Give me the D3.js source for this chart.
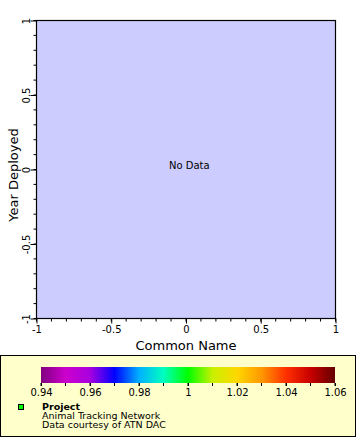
<!DOCTYPE html>
<html><head><meta charset="utf-8">
<script src="https://cdn.jsdelivr.net/npm/d3@7/dist/d3.min.js"></script>
<style>body{margin:0;background:#fff}svg{display:block}text{font-family:"DejaVu Sans",sans-serif}</style>
</head><body><svg id="c" width="360" height="440"></svg>
<script>
// Data (chart shows no data)
const commonNames = [];
const yearDeployed = [];
const xDomain = [-1, 1];
const yDomain = [-1, 1];
const xTickLabels = [-1, -0.5, 0, 0.5, 1];
const yTickLabels = [-1, -0.5, 0, 0.5, 1];
const colorDomain = [0.94, 1.06];
const colorStops = [0.94, 0.95, 0.96, 0.97, 0.98, 0.99, 1.00, 1.01, 1.02, 1.03, 1.04, 1.05, 1.06];
const colorValues = ["#800080", "#cc00cc", "#a800e0", "#0000ff", "#00b0ff", "#00ffc0", "#00ff00", "#c8f000", "#ffd800", "#ff9800", "#ff3000", "#c80000", "#640000"];
const colorTickLabels = [0.94, 0.96, 0.98, 1, 1.02, 1.04, 1.06];
const legendTitle = "Project";
const legendLines = ["Animal Tracking Network", "Data courtesy of ATN DAC"];

const svg = d3.select("#c");
const m = {l: 36.5, r: 335.5, t: 20.5, b: 318.5};
const x = d3.scaleLinear().domain(xDomain).range([m.l, m.r]);
const y = d3.scaleLinear().domain(yDomain).range([m.b, m.t]);

svg.append("rect").attr("x", m.l).attr("y", m.t).attr("width", m.r - m.l).attr("height", m.b - m.t)
  .attr("fill", "#ccccff").attr("stroke", "#000").attr("stroke-width", 1.2);

const fmt = d => d === 0 ? "0" : String(d);
// minor ticks
const minor = d3.range(-10, 11).map(i => i / 10);
const gx = svg.append("g").attr("transform", `translate(0,${m.b})`);
gx.selectAll("line.mn").data(minor).join("line").attr("x1", d => x(d)).attr("x2", d => x(d)).attr("y1", 0).attr("y2", 3).attr("stroke", "#000");
gx.call(d3.axisBottom(x).tickValues(xTickLabels).tickFormat(fmt).tickSize(5).tickPadding(2));
gx.select(".domain").remove();
gx.selectAll("text").attr("font-size", 10).attr("font-family", "DejaVu Sans").attr("fill", "#000");

const gy = svg.append("g").attr("transform", `translate(${m.l},0)`);
gy.selectAll("line.mn").data(minor).join("line").attr("y1", d => y(d)).attr("y2", d => y(d)).attr("x1", 0).attr("x2", -3).attr("stroke", "#000");
gy.call(d3.axisLeft(y).tickValues(yTickLabels).tickFormat(fmt).tickSize(6));
gy.select(".domain").remove();
gy.selectAll(".tick text").attr("font-size", 10).attr("font-family", "DejaVu Sans").attr("fill", "#000")
  .attr("x", null).attr("dy", null).attr("text-anchor", "middle").attr("transform", "translate(-7,0) rotate(-90)");

// data points (none)
svg.append("g").selectAll("circle").data(commonNames.map((c, i) => [c, yearDeployed[i]])).join("circle")
  .attr("cx", d => x(d[0])).attr("cy", d => y(d[1])).attr("r", 2);

svg.append("text").attr("x", 169).attr("y", 169).attr("font-size", 10).text("No Data");

svg.append("text").attr("x", 186).attr("y", 350).attr("text-anchor", "middle").attr("font-size", 13).text("Common Name");
svg.append("text").attr("transform", "translate(18,175) rotate(-90)").attr("text-anchor", "middle").attr("font-size", 13).text("Year Deployed");

// legend box
svg.append("rect").attr("x", 0.5).attr("y", 355.5).attr("width", 355).attr("height", 81).attr("fill", "#ffffcc").attr("stroke", "#000");

const cb = {x0: 41, x1: 335, y: 367, h: 16};
const cx = d3.scaleLinear().domain(colorDomain).range([cb.x0, cb.x1]);
const grad = svg.append("defs").append("linearGradient").attr("id", "g1").attr("x1", "0%").attr("x2", "100%");
colorStops.forEach((s, i) => grad.append("stop").attr("offset", (s - colorDomain[0]) / (colorDomain[1] - colorDomain[0])).attr("stop-color", colorValues[i]));
svg.append("rect").attr("x", cb.x0).attr("y", cb.y).attr("width", cb.x1 - cb.x0).attr("height", cb.h).attr("fill", "url(#g1)");
const gc = svg.append("g").attr("transform", `translate(0,${cb.y + cb.h})`);
gc.selectAll("line.mn").data(colorStops).join("line").attr("x1", d => cx(d)).attr("x2", d => cx(d)).attr("y1", 0).attr("y2", 3).attr("stroke", "#000");
gc.call(d3.axisBottom(cx).tickValues(colorTickLabels).tickFormat(d => String(+d.toFixed(2))).tickSize(3).tickPadding(3));
gc.select(".domain").remove();
gc.selectAll("text").attr("font-size", 10).attr("font-family", "DejaVu Sans").attr("fill", "#000");

svg.append("rect").attr("x", 18.5).attr("y", 404.5).attr("width", 5).attr("height", 5).attr("fill", "#00ff00").attr("stroke", "#000");
svg.append("text").attr("x", 42).attr("y", 410).attr("font-size", 9.5).attr("font-weight", "bold").text(legendTitle);
svg.append("g").selectAll("text").data(legendLines).join("text").attr("x", 42).attr("y", (d, i) => 419 + i * 9).attr("font-size", 9.5).text(d => d);
</script></body></html>
